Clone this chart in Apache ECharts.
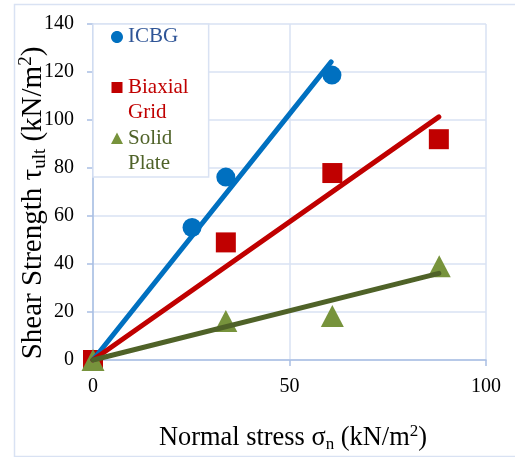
<!DOCTYPE html>
<html>
<head>
<meta charset="utf-8">
<script src="https://cdn.jsdelivr.net/npm/echarts@6/dist/echarts.min.js"></script>
<style>html,body{margin:0;padding:0;background:#fff;}#c{width:515px;height:457px;}</style>
</head>
<body>
<div id="c"></div>
<script>
// ---- data ----
const seriesNames = ['ICBG', 'Biaxial Grid', 'Solid Plate'];
const icbgX = [0, 25.2, 33.8, 60.8];
const icbgY = [0, 55.2, 76.2, 118.7];
const biaxialX = [0, 33.8, 60.9, 88.0];
const biaxialY = [0, 49.0, 77.9, 92.0];
const solidX = [0, 33.8, 60.9, 88.1];
const solidY = [0, 16.2, 18.3, 39.1];
// trend lines (through origin), end points
const icbgFitX = [0, 60.6];
const icbgFitY = [0, 124.2];
const biaxialFitX = [0, 88.0];
const biaxialFitY = [0, 101.3];
const solidFitX = [0, 88.0];
const solidFitY = [0, 36.1];
// axis ticks
const xTicks = [0, 50, 100];
const yTicks = [0, 20, 40, 60, 80, 100, 120, 140];

const pair = (xs, ys) => xs.map((x, i) => [x, ys[i]]);
const FONT = 'Liberation Serif';
const GRID_C = '#D9E2F3';
const AXIS_C = '#A9BFE3';

// legend icons: shape in the top half of a 12x50 box
const ext = ' M0,0 L0,0.01 Z M12,50 L12,49.99 Z';
const circleIcon = 'path://M6,6.25 C9.45,6.25 12.25,9.05 12.25,12.5 C12.25,15.95 9.45,18.75 6,18.75 C2.55,18.75 -0.25,15.95 -0.25,12.5 C-0.25,9.05 2.55,6.25 6,6.25 Z' + ext;
const squareIcon = 'path://M0.5,7 L11.5,7 L11.5,18 L0.5,18 Z' + ext;
const triIcon = 'path://M6,6.5 L12,18 L0,18 Z' + ext;

const chart = echarts.init(document.getElementById('c'), null, {renderer: 'canvas'});
const nameRich = (size, lh) => ({
  sub: {fontFamily: FONT, fontSize: Math.round(size * 0.65), lineHeight: Math.round(lh * 0.43), verticalAlign: 'bottom', color: '#000'},
  sup: {fontFamily: FONT, fontSize: Math.round(size * 0.65), lineHeight: Math.round(lh * 0.87), verticalAlign: 'top', color: '#000'}
});

chart.setOption({
  animation: false,
  backgroundColor: '#fff',
  graphic: [{
    type: 'rect', left: 12, top: 2, z: 0, silent: true,
    shape: {width: 520, height: 452},
    style: {fill: 'none', stroke: GRID_C, lineWidth: 1.5}
  }],
  grid: {left: 93, right: 29, top: 24, bottom: 97, containLabel: false, outerBoundsMode: 'none'},
  legend: {
    orient: 'vertical', left: 93, top: 24,
    itemWidth: 12, itemHeight: 50, itemGap: 1,
    padding: [0, 20, 1, 18],
    backgroundColor: '#fff', borderColor: GRID_C, borderWidth: 1.5,
    textStyle: {fontFamily: FONT, fontSize: 21, lineHeight: 25},
    formatter: function (n) {
      if (n === 'ICBG') return 'ICBG\n ';
      if (n === 'Biaxial Grid') return 'Biaxial\nGrid';
      return 'Solid\nPlate';
    },
    data: [
      {name: seriesNames[0], icon: circleIcon, textStyle: {color: '#2F5597'}},
      {name: seriesNames[1], icon: squareIcon, textStyle: {color: '#C00000'}},
      {name: seriesNames[2], icon: triIcon, textStyle: {color: '#4F6228'}}
    ]
  },
  xAxis: {
    type: 'value', min: xTicks[0], max: xTicks[xTicks.length - 1], interval: xTicks[1] - xTicks[0],
    axisLine: {show: true, lineStyle: {color: AXIS_C, width: 1.5}},
    axisTick: {show: true, length: 6, lineStyle: {color: AXIS_C, width: 1.5}},
    splitLine: {show: true, lineStyle: {color: GRID_C, width: 1.5}},
    axisLabel: {fontFamily: FONT, fontSize: 20, color: '#000', margin: 17},
    name: 'Normal stress σ{sub|n} (kN/m{sup|2})',
    nameLocation: 'middle', nameGap: 63, nameMoveOverlap: false,
    nameTextStyle: {fontFamily: FONT, fontSize: 26.4, lineHeight: 30, color: '#000', padding: [0, 0, 0, 7], rich: nameRich(26.4, 30)}
  },
  yAxis: {
    type: 'value', min: yTicks[0], max: yTicks[yTicks.length - 1], interval: yTicks[1] - yTicks[0],
    axisLine: {show: true, lineStyle: {color: AXIS_C, width: 1.5}},
    axisTick: {show: true, length: 6, lineStyle: {color: AXIS_C, width: 1.5}},
    splitLine: {show: true, lineStyle: {color: GRID_C, width: 1.5}},
    axisLabel: {fontFamily: FONT, fontSize: 20, color: '#000', margin: 19},
    name: 'Shear Strength τ{sub|ult} (kN/m{sup|2})',
    nameLocation: 'middle', nameGap: 43, nameRotate: 90, nameMoveOverlap: false,
    nameTextStyle: {fontFamily: FONT, fontSize: 29, lineHeight: 33, color: '#000', padding: [0, 22, 0, 0], rich: nameRich(29, 33)}
  },
  series: [
    {name: seriesNames[0], type: 'scatter', symbol: 'circle', symbolSize: 19,
     itemStyle: {color: '#0070C0', opacity: 1}, data: pair(icbgX, icbgY)},
    {name: seriesNames[1], type: 'scatter', symbol: 'rect', symbolSize: 20,
     itemStyle: {color: '#C00000', opacity: 1}, data: pair(biaxialX, biaxialY)},
    {name: seriesNames[2], type: 'scatter', symbol: 'triangle', symbolSize: [23, 22],
     itemStyle: {color: '#77933C', opacity: 1}, data: pair(solidX, solidY)},
    {name: 'ICBG trend', type: 'line', showSymbol: false, silent: true,
     lineStyle: {color: '#0070C0', width: 5, cap: 'round'}, data: pair(icbgFitX, icbgFitY)},
    {name: 'Biaxial Grid trend', type: 'line', showSymbol: false, silent: true,
     lineStyle: {color: '#C00000', width: 5, cap: 'round'}, data: pair(biaxialFitX, biaxialFitY)},
    {name: 'Solid Plate trend', type: 'line', showSymbol: false, silent: true,
     lineStyle: {color: '#4F6228', width: 5, cap: 'round'}, data: pair(solidFitX, solidFitY)}
  ]
});
</script>
</body>
</html>
